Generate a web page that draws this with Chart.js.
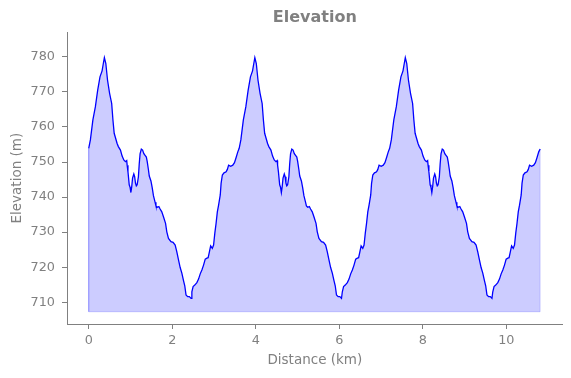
<!DOCTYPE html>
<html>
<head>
<meta charset="utf-8">
<script src="https://cdn.jsdelivr.net/npm/chart.js@4/dist/chart.umd.min.js"></script>
<style>
  html, body { margin: 0; padding: 0; background: #fff; }
  canvas { display: block; }
</style>
</head>
<body>
<canvas id="elevationChart" width="571" height="378"></canvas>
<script>
// one lap of the course (km from lap start, metres)
const lapKm = [
  0.00, 0.04, 0.10, 0.16, 0.215, 0.27, 0.32, 0.35, 0.375, 0.41,
  0.45, 0.50, 0.55, 0.58, 0.61, 0.68, 0.71, 0.76, 0.80, 0.84,
  0.88, 0.91, 0.92, 0.94, 0.97, 0.99, 1.01, 1.03, 1.05, 1.08,
  1.10, 1.12, 1.14, 1.16, 1.19, 1.21, 1.23, 1.26, 1.29, 1.32,
  1.35, 1.38, 1.40, 1.43, 1.45, 1.49, 1.52, 1.55, 1.59, 1.61,
  1.64, 1.68, 1.71, 1.75, 1.79, 1.84, 1.87, 1.91, 1.97, 2.02,
  2.07, 2.11, 2.15, 2.19, 2.23, 2.27, 2.30, 2.33, 2.37, 2.41,
  2.45, 2.47, 2.50, 2.54, 2.59, 2.63, 2.67, 2.71, 2.75, 2.79,
  2.83, 2.86, 2.89, 2.92, 2.96, 2.99, 3.02, 3.05, 3.08, 3.11,
  3.15, 3.17, 3.20, 3.24, 3.29, 3.32, 3.35, 3.40, 3.45, 3.49,
  3.53, 3.57
];
const lapElevation = [
  753.9, 756.3, 762.0, 765.8, 770.5, 774.3, 776.0, 778.1, 779.8, 778.1,
  773.4, 769.6, 766.7, 762.0, 758.2, 755.3, 754.4, 753.4, 751.7, 750.6,
  750.1, 750.4, 749.1, 747.2, 743.5, 742.8, 741.3, 743.0, 745.4, 746.6,
  745.8, 744.0, 743.2, 743.5, 745.8, 749.5, 752.3, 753.7, 753.4, 752.4,
  751.9, 751.4, 750.2, 747.8, 746.0, 744.6, 742.7, 740.4, 738.5, 737.5,
  737.1, 737.3, 736.6, 735.8, 734.4, 732.5, 730.1, 728.2, 727.3, 727.1,
  726.3, 724.4, 722.1, 719.9, 718.3, 716.2, 714.7, 712.1, 711.6, 711.6,
  711.1, 713.0, 714.5, 714.9, 715.6, 716.6, 718.1, 719.2, 720.6, 722.3,
  722.6, 722.7, 724.4, 726.1, 725.4, 726.3, 729.7, 732.5, 735.8, 737.7,
  740.6, 743.9, 746.3, 746.9, 747.2, 747.9, 749.1, 748.8, 749.1, 749.8,
  751.3, 752.9
];
const lapStartsKm = [0, 3.603, 7.206];
const trackEndKm = 10.81;
const trackEndElevation = 753.7;
const fillBase = 707.3;

const xTicks = { min: -0.52, max: 11.35, step: 2 };
const yTicks = { min: 703.8, max: 787, step: 10 };

const grey = '#808080';
const font = 'DejaVu Sans';

const profile = [];
lapStartsKm.forEach(start => {
  lapKm.forEach((km, i) => profile.push({ x: start + km, y: lapElevation[i] }));
});
profile.push({ x: trackEndKm, y: trackEndElevation });

// outline of the filled area (left edge, floor, right edge)
const outline = [
  { x: profile[0].x, y: profile[0].y },
  { x: profile[0].x, y: fillBase },
  { x: trackEndKm, y: fillBase },
  { x: trackEndKm, y: trackEndElevation }
];

new Chart(document.getElementById('elevationChart'), {
  type: 'line',
  data: {
    datasets: [
      {
        data: profile,
        borderColor: '#0000ff',
        borderWidth: 1.3,
        backgroundColor: 'rgba(0,0,255,0.2)',
        fill: { value: fillBase },
        pointRadius: 0,
        tension: 0
      },
      {
        data: outline,
        borderColor: 'rgba(0,0,255,0.18)',
        borderWidth: 1,
        fill: false,
        pointRadius: 0,
        tension: 0
      }
    ]
  },
  options: {
    responsive: false,
    animation: false,
    events: [],
    layout: { padding: { left: 0, right: 8.3, top: 0, bottom: 0 } },
    plugins: {
      legend: { display: false },
      tooltip: { enabled: false },
      title: {
        display: true,
        text: 'Elevation',
        fullSize: false,
        color: grey,
        font: { family: font, size: 16, weight: 'bold' },
        padding: { top: 8, bottom: 5.1 }
      }
    },
    scales: {
      x: {
        type: 'linear',
        min: xTicks.min,
        max: xTicks.max,
        afterFit: scale => { scale.height = 54; },
        border: { display: true, color: grey, width: 1 },
        grid: { drawOnChartArea: false, drawTicks: true, tickLength: 5, color: grey },
        ticks: {
          stepSize: xTicks.step,
          includeBounds: false,
          color: grey,
          padding: 4,
          maxRotation: 0,
          font: { family: font, size: 12.8 }
        },
        title: {
          display: true,
          text: 'Distance (km)',
          color: grey,
          font: { family: font, size: 13.5 },
          padding: { top: 0, bottom: 9 }
        }
      },
      y: {
        type: 'linear',
        min: yTicks.min,
        max: yTicks.max,
        afterFit: scale => { scale.width = 67; },
        border: { display: true, color: grey, width: 1 },
        grid: { drawOnChartArea: false, drawTicks: true, tickLength: 5, color: grey },
        ticks: {
          stepSize: yTicks.step,
          includeBounds: false,
          color: grey,
          padding: 7,
          font: { family: font, size: 12.8 }
        },
        title: {
          display: true,
          text: 'Elevation (m)',
          color: grey,
          font: { family: font, size: 13.5 },
          padding: { top: 9, bottom: 0 }
        }
      }
    }
  }
});
</script>
</body>
</html>
